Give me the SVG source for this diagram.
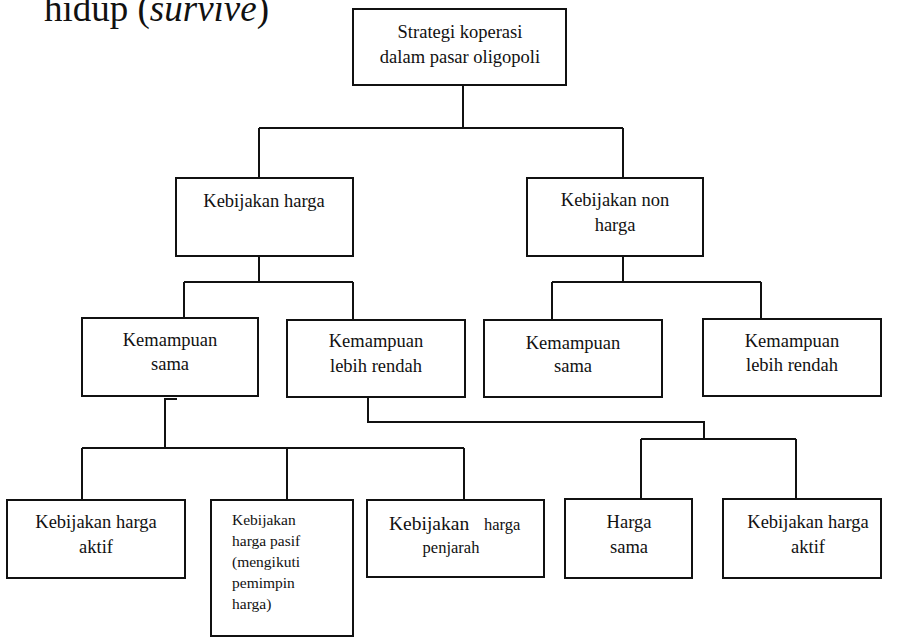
<svg xmlns="http://www.w3.org/2000/svg" width="900" height="638" viewBox="0 0 900 638">
  <style>
    text { font-family: "Liberation Serif", "DejaVu Serif", "Times New Roman", serif; fill: #111111; }
    .box { fill: #ffffff; stroke: #111111; stroke-width: 2; }
    .lbl { font-size: 18.5px; text-anchor: middle; }
    .small { font-size: 15.5px; }
    .wire { fill: none; stroke: #111111; stroke-width: 2; }
  </style>
  <rect width="900" height="638" fill="#ffffff"/>

  <!-- running text cut off at the top edge -->
  <text x="44" y="21" font-size="37">hidup (<tspan font-style="italic">survive</tspan>)</text>

  <!-- connectors -->
  <g id="connectors" class="wire">
    <path d="M463 85 V128 M259 128 H623 M259 128 V178 M623 128 V178"/>
    <path d="M259 256 V282 M184 282 H353 M184 282 V318 M353 282 V320"/>
    <path d="M623 256 V282 M552 282 H761 M552 282 V320 M761 282 V319"/>
    <path d="M177 399 H165 V448 M82 448 H464 M82 448 V500 M287 448 V500 M464 448 V500"/>
    <path d="M368 397 V422 H704 V439 M641 439 H796 M641 439 V499 M796 439 V499"/>
  </g>

  <g id="root">
    <rect class="box" x="353" y="9" width="213" height="76"/>
    <text class="lbl" x="460" y="38">Strategi koperasi</text>
    <text class="lbl" x="460" y="63">dalam pasar oligopoli</text>
  </g>

  <g id="harga">
    <rect class="box" x="176" y="178" width="177" height="78"/>
    <text class="lbl" x="264" y="207">Kebijakan harga</text>
  </g>

  <g id="non-harga">
    <rect class="box" x="527" y="178" width="176" height="78"/>
    <text class="lbl" x="615" y="206">Kebijakan non</text>
    <text class="lbl" x="615" y="231">harga</text>
  </g>

  <g id="harga-sama-kemampuan">
    <rect class="box" x="82" y="318" width="176" height="78"/>
    <text class="lbl" x="170" y="346">Kemampuan</text>
    <text class="lbl" x="170" y="370">sama</text>
  </g>

  <g id="harga-rendah-kemampuan">
    <rect class="box" x="287" y="320" width="178" height="77"/>
    <text class="lbl" x="376" y="347">Kemampuan</text>
    <text class="lbl" x="376" y="372">lebih rendah</text>
  </g>

  <g id="non-harga-sama">
    <rect class="box" x="484" y="320" width="178" height="77"/>
    <text class="lbl" x="573" y="349">Kemampuan</text>
    <text class="lbl" x="573" y="372">sama</text>
  </g>

  <g id="non-harga-rendah">
    <rect class="box" x="703" y="319" width="178" height="77"/>
    <text class="lbl" x="792" y="347">Kemampuan</text>
    <text class="lbl" x="792" y="371">lebih rendah</text>
  </g>

  <g id="aktif-kiri">
    <rect class="box" x="7" y="500" width="178" height="78"/>
    <text class="lbl" x="96" y="528">Kebijakan harga</text>
    <text class="lbl" x="96" y="553">aktif</text>
  </g>

  <g id="pasif">
    <rect class="box" x="211" y="500" width="142" height="136"/>
    <text class="small" x="232" y="525">Kebijakan</text>
    <text class="small" x="232" y="546">harga pasif</text>
    <text class="small" x="232" y="567">(mengikuti</text>
    <text class="small" x="232" y="588">pemimpin</text>
    <text class="small" x="232" y="609">harga)</text>
  </g>

  <g id="penjarah">
    <rect class="box" x="367" y="500" width="177" height="77"/>
    <text y="530"><tspan x="389" font-size="19.5">Kebijakan</tspan><tspan x="484" font-size="16.5">harga</tspan></text>
    <text x="451" y="553" text-anchor="middle" font-size="16.5">penjarah</text>
  </g>

  <g id="harga-sama">
    <rect class="box" x="565" y="499" width="127" height="79"/>
    <text class="lbl" x="629" y="528">Harga</text>
    <text class="lbl" x="629" y="553">sama</text>
  </g>

  <g id="aktif-kanan">
    <rect class="box" x="723" y="499" width="158" height="79"/>
    <text class="lbl" x="808" y="528">Kebijakan harga</text>
    <text class="lbl" x="808" y="553">aktif</text>
  </g>
</svg>
